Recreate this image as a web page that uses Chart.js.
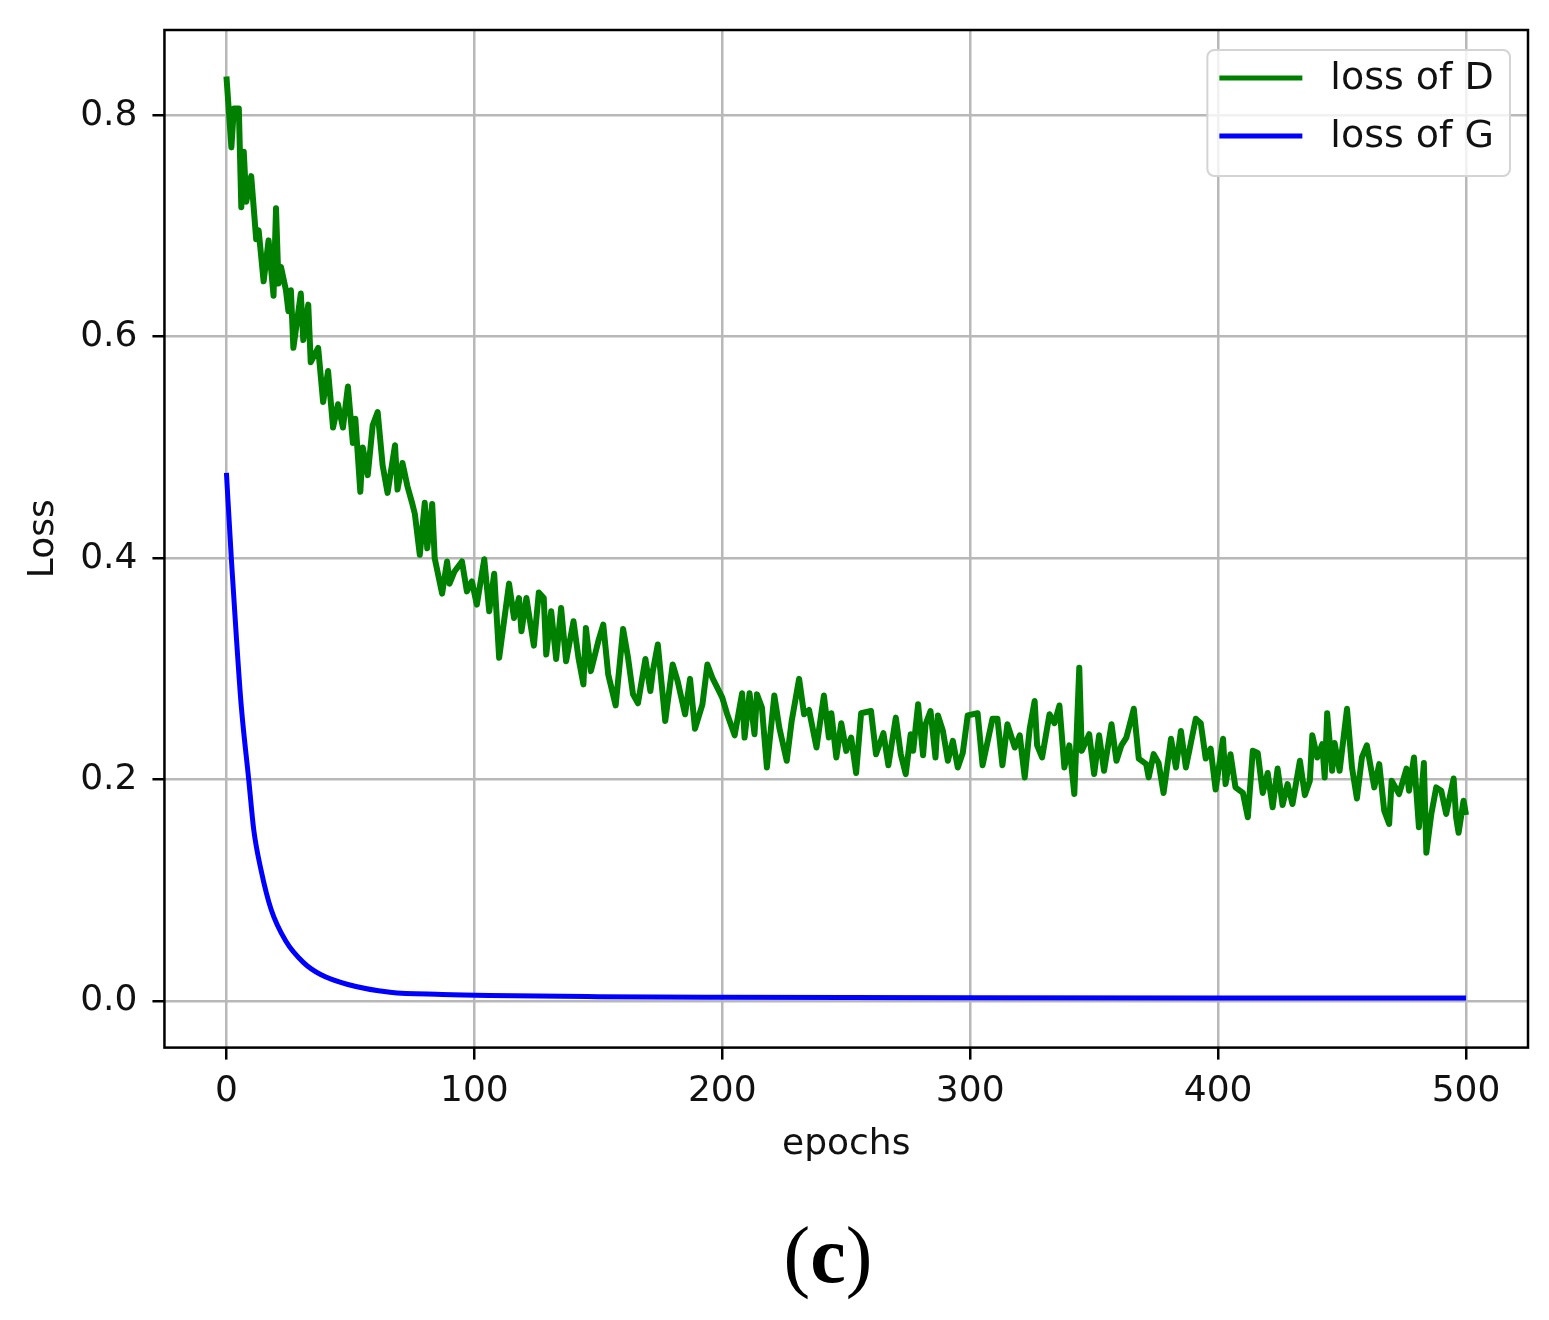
<!DOCTYPE html>
<html>
<head>
<meta charset="utf-8">
<script src="https://cdn.jsdelivr.net/npm/chart.js@4.4.0/dist/chart.umd.min.js"></script>
<style>
html, body { margin: 0; padding: 0; background: #fff; }
#caixa { position: absolute; left: 0; top: 0; width: 1549px; height: 1320px; }
#rotulo { position: absolute; left: 728px; top: 1215px; width: 200px; text-align: center;
  font-family: 'Liberation Serif', serif; font-size: 80px; line-height: 1; color: #000; }
</style>
</head>
<body>
<div id="caixa"><canvas id="grafico_perdas"></canvas></div>
<div id="rotulo">(<b>c</b>)</div>
<script>
// valores
var epocasD = [0, 2, 3, 5, 6, 7, 8, 10, 12, 13, 15, 17, 19, 20, 21, 22, 24, 25, 26, 27, 30, 31, 33, 34, 37, 39, 41, 43, 45, 47, 49,
  51, 52, 54, 55, 57, 59, 61, 63, 65, 68, 69, 71, 73, 75, 76, 78, 80, 81, 83, 84, 87, 89, 90, 92, 95, 97, 99,
  101, 104, 106, 108, 110, 114, 116, 118, 119, 121, 124, 126, 128, 129, 131, 133, 135, 137, 140, 142, 144, 145, 147,
  150, 152, 154, 157, 160, 162, 164, 166, 169, 171, 172, 174, 177, 180, 182, 185, 187, 189, 192, 194, 196, 200,
  202, 205, 208, 209, 211, 213, 214, 216, 218, 221, 223, 226, 228, 231, 233, 235, 238, 241, 243, 244, 246, 248,
  250, 252, 254, 256, 260, 262, 265, 267, 270, 272, 274, 276, 277, 279, 281, 282, 284, 286, 287, 289, 291, 293,
  295, 297, 299, 303, 305, 309, 311, 313, 315, 318, 320, 322, 324, 326, 327, 329, 332, 334, 336, 338, 340, 342,
  344, 345, 348, 350, 352, 354, 357, 359, 361, 363, 366, 368, 371, 372, 374, 376, 378, 381, 383, 385, 387, 391,
  393, 395, 397, 399, 402, 403, 405, 407, 410, 412, 414, 416, 418, 420, 422, 424, 426, 428, 430, 433, 435, 437,
  438, 440, 442, 443, 444, 446, 447, 449, 452, 454, 456, 458, 460, 463, 465, 467, 469, 470, 473, 476, 477, 479,
  481, 483, 484, 486, 488, 490, 492, 495, 496, 497, 499, 500];
var perdaD = [0.835, 0.771, 0.806, 0.806, 0.717, 0.767, 0.722, 0.745, 0.688, 0.696, 0.650, 0.687, 0.637, 0.716, 0.648, 0.663,
  0.642, 0.623, 0.642, 0.590, 0.639, 0.597, 0.629, 0.577, 0.590, 0.541, 0.569, 0.518, 0.539, 0.518, 0.555,
  0.504, 0.526, 0.460, 0.500, 0.475, 0.520, 0.532, 0.484, 0.459, 0.502, 0.462, 0.486, 0.465, 0.449, 0.440, 0.403,
  0.450, 0.409, 0.449, 0.400, 0.368, 0.397, 0.377, 0.388, 0.397, 0.370, 0.379,
  0.358, 0.399, 0.352, 0.386, 0.310, 0.377, 0.346, 0.364, 0.334, 0.364, 0.321, 0.369, 0.364, 0.313, 0.352, 0.309,
  0.355, 0.307, 0.343, 0.310, 0.286, 0.337, 0.298,
  0.325, 0.340, 0.295, 0.267, 0.336, 0.310, 0.277, 0.269, 0.309, 0.280, 0.298, 0.322, 0.253, 0.304, 0.289, 0.259,
  0.291, 0.246, 0.268, 0.304, 0.292, 0.274,
  0.259, 0.240, 0.278, 0.238, 0.278, 0.241, 0.277, 0.265, 0.211, 0.276, 0.247, 0.217, 0.253, 0.291, 0.259, 0.263,
  0.229, 0.276, 0.238, 0.260, 0.220, 0.251,
  0.226, 0.238, 0.206, 0.260, 0.262, 0.223, 0.242, 0.213, 0.256, 0.223, 0.205, 0.241, 0.226, 0.268, 0.222, 0.250,
  0.262, 0.220, 0.258, 0.244, 0.217, 0.235,
  0.211, 0.224, 0.258, 0.260, 0.213, 0.255, 0.255, 0.213, 0.250, 0.229, 0.240, 0.202, 0.246, 0.271, 0.231, 0.220,
  0.259, 0.251, 0.267, 0.211, 0.231, 0.187,
  0.301, 0.226, 0.241, 0.205, 0.240, 0.208, 0.250, 0.217, 0.231, 0.238, 0.264, 0.219, 0.214, 0.202, 0.223, 0.215,
  0.188, 0.237, 0.211, 0.244, 0.211, 0.255,
  0.251, 0.219, 0.228, 0.191, 0.237, 0.196, 0.223, 0.193, 0.188, 0.166, 0.226, 0.224, 0.188, 0.206, 0.175, 0.210,
  0.177, 0.196, 0.178, 0.217, 0.186, 0.199,
  0.240, 0.220, 0.232, 0.202, 0.260, 0.208, 0.233, 0.208, 0.264, 0.211, 0.183, 0.220, 0.231, 0.193, 0.214, 0.172,
  0.160, 0.199, 0.187, 0.210, 0.190, 0.220,
  0.157, 0.215, 0.134, 0.169, 0.193, 0.190, 0.169, 0.201, 0.166, 0.152, 0.181, 0.168];

var epocasG = [0, 2, 4, 6, 9, 11, 14, 18, 24, 31, 38, 49, 66, 87, 106, 150, 200, 300, 400, 500];
var perdaG = [0.477, 0.399, 0.329, 0.266, 0.200, 0.155, 0.118, 0.083, 0.054, 0.035, 0.024, 0.015, 0.008, 0.006,
  0.005, 0.004, 0.0035, 0.003, 0.0028, 0.0027];

var ticksX = [0, 100, 200, 300, 400, 500];
var ticksY = [0, 0.2, 0.4, 0.6, 0.8];

var fonte = '"DejaVu Sans", sans-serif';
var corTexto = '#111';

function pares(xs, ys) {
    return xs.map(function(x, i) { return { x: x, y: ys[i] }; });
}

// moldura do grafico e legenda dentro da area
var molduraLegenda = {
    id: 'molduraLegenda',
    afterDatasetsDraw: function(chart) {
        var ctx = chart.ctx;
        var area = chart.chartArea;
        ctx.save();
        ctx.strokeStyle = '#000';
        ctx.lineWidth = 2.5;
        ctx.strokeRect(area.left, area.top, area.right - area.left, area.bottom - area.top);

        ctx.font = '38px ' + fonte;
        var larguraTexto = 0;
        chart.data.datasets.forEach(function(ds) {
            larguraTexto = Math.max(larguraTexto, ctx.measureText(ds.label).width);
        });
        var w = 12 + 83 + 28 + larguraTexto + 16;
        var h = 126;
        var x0 = area.right - 18 - w;
        var y0 = area.top + 20;
        ctx.beginPath();
        ctx.roundRect(x0, y0, w, h, 7);
        ctx.fillStyle = 'rgba(255,255,255,0.8)';
        ctx.fill();
        ctx.strokeStyle = '#d4d4d4';
        ctx.lineWidth = 2;
        ctx.stroke();
        chart.data.datasets.forEach(function(ds, i) {
            var y = y0 + 28 + i * 58;
            ctx.strokeStyle = ds.borderColor;
            ctx.lineWidth = 5;
            ctx.beginPath();
            ctx.moveTo(x0 + 12, y);
            ctx.lineTo(x0 + 95, y);
            ctx.stroke();
            ctx.fillStyle = corTexto;
            ctx.textBaseline = 'middle';
            ctx.textAlign = 'left';
            ctx.fillText(ds.label, x0 + 123, y + 1);
        });
        ctx.restore();
    }
};

var perdas = new Chart(document.getElementById('grafico_perdas').getContext('2d'), {
    type: 'line',
    data: {
        datasets: [{
            label: 'loss of D',
            data: pares(epocasD, perdaD),
            borderColor: '#008000',
            backgroundColor: '#008000',
            borderWidth: 6,
            borderJoinStyle: 'round',
            pointRadius: 0,
            tension: 0
        }, {
            label: 'loss of G',
            data: pares(epocasG, perdaG),
            borderColor: '#0000ff',
            backgroundColor: '#0000ff',
            borderWidth: 5,
            pointRadius: 0,
            cubicInterpolationMode: 'monotone'
        }]
    },
    options: {
        responsive: true,
        maintainAspectRatio: false,
        animation: false,
        layout: { padding: { left: 22, right: 21, top: 30, bottom: 154 } },
        plugins: {
            legend: { display: false },
            tooltip: { enabled: false }
        },
        scales: {
            x: {
                type: 'linear',
                min: -25,
                max: 525,
                afterBuildTicks: function(axis) {
                    axis.ticks = ticksX.map(function(v) { return { value: v }; });
                },
                grid: { color: '#b8b8b8', lineWidth: 2.5, tickColor: '#000', tickWidth: 2.5, tickLength: 12 },
                border: { display: false },
                ticks: {
                    padding: 10,
                    color: corTexto,
                    font: { family: fonte, size: 36 },
                    maxRotation: 0,
                    callback: function(v) { return String(v); }
                },
                title: {
                    display: true,
                    text: 'epochs',
                    color: corTexto,
                    font: { family: fonte, size: 36 },
                    padding: { top: 0, bottom: 0 }
                }
            },
            y: {
                type: 'linear',
                min: -0.042,
                max: 0.877,
                afterBuildTicks: function(axis) {
                    axis.ticks = ticksY.map(function(v) { return { value: v }; });
                },
                afterFit: function(axis) {
                    axis.paddingTop = 0;
                    axis.paddingBottom = 0;
                },
                grid: { color: '#b8b8b8', lineWidth: 2.5, tickColor: '#000', tickWidth: 2.5, tickLength: 12 },
                border: { display: false },
                ticks: {
                    padding: 15,
                    color: corTexto,
                    font: { family: fonte, size: 36 },
                    callback: function(v) { return v.toFixed(1); }
                },
                title: {
                    display: true,
                    text: 'Loss',
                    color: corTexto,
                    font: { family: fonte, size: 36 },
                    padding: { top: 0, bottom: 0 }
                }
            }
        }
    },
    plugins: [molduraLegenda]
});
</script>
</body>
</html>
